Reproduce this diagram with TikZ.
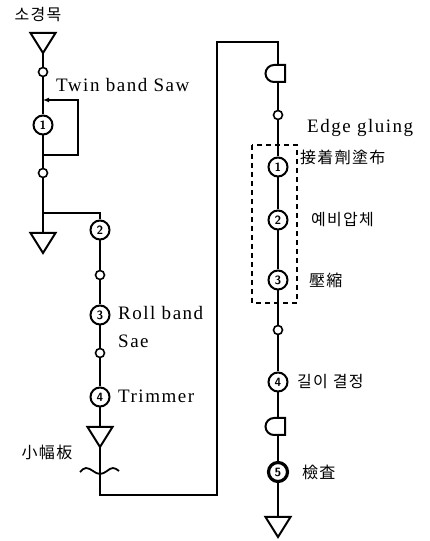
\documentclass[tikz,border=0pt]{standalone}
\usepackage{fontspec}
\setmainfont{Liberation Serif}[LetterSpace=8]
\newfontfamily\kr{Noto Sans CJK KR}[LetterSpace=8]
\usetikzlibrary{arrows.meta}
\begin{document}
\begin{tikzpicture}[x=1pt,y=1pt,
  ln/.style={line width=2pt},
  dot/.style={circle,draw,line width=1.6pt,minimum size=9pt,inner sep=0pt,fill=white},
  op/.style={circle,draw,line width=2pt,minimum size=19pt,inner sep=0pt,fill=white,
     font=\sffamily\bfseries\fontsize{12}{12}\selectfont},
  opk/.style={op,line width=3.2pt},
  lat/.style={font=\fontsize{19}{19}\selectfont,inner sep=0pt},
  cjk/.style={font=\kr\fontsize{16}{16}\selectfont,inner sep=0pt},
  tri/.pic={\draw[line width=2pt,fill=white] (-12.5,0) -- (12.5,0) -- (0,-20) -- cycle;
     \coordinate (-top) at (0,0); \coordinate (-bot) at (0,-20);},
  delay/.pic={\draw[line width=2pt,fill=white] (7,8.5) -- (-4,8.5) arc[start angle=90,end angle=270,radius=8.5] -- (7,-8.5) -- cycle;
     \coordinate (-top) at (0,8.5); \coordinate (-bot) at (0,-8.5);}
]
\useasboundingbox (0,0) rectangle (430,541);
\coordinate (j1) at (43,441);
\coordinate (j2) at (43,386);
\coordinate (lr1) at (78,441);
\coordinate (lr2) at (78,386);
\coordinate (br) at (43,328);
\coordinate (b1) at (100,46);
\coordinate (b2) at (217,46);
\coordinate (b3) at (217,499);
\coordinate (b4) at (278,499);
\node[dot] (s1) at (43,469) {};
\node[op] (c1) at (43,416) {1};
\node[dot] (s2) at (43,368) {};
\node[op] (c2) at (100,311) {2};
\node[dot] (s3) at (100,266) {};
\node[op] (c3) at (100,226) {3};
\node[dot] (s4) at (100,188) {};
\node[op] (c4) at (100,144) {4};
\node[dot] (s5) at (278,426) {};
\node[op] (c5) at (278,374) {1};
\node[op] (c6) at (278,321) {2};
\node[op] (c7) at (278,261) {3};
\node[dot] (s6) at (278,211) {};
\node[op] (c8) at (278,159) {4};
\node[opk] (c9) at (278,69) {5};
\pic (t1) at (43,508) {tri};
\pic (t2) at (43,308) {tri};
\pic (t3) at (100,114) {tri};
\pic (t4) at (278,24) {tri};
\pic (d1) at (278,467.5) {delay};
\pic (d2) at (278,114.5) {delay};
% connectors
\draw[ln] (t1-bot) -- (s1) -- (c1) -- (s2) -- (br) -- (t2-top);
\draw[ln] (br) -| (c2);
\draw[ln] (c2) -- (s3) -- (c3) -- (s4) -- (c4) -- (t3-top);
\draw[ln] (t3-bot) -- (b1) -- (b2) -- (b3) -- (b4) -- (d1-top);
\draw[ln] (d1-bot) -- (s5) -- (c5) -- (c6) -- (c7) -- (s6) -- (c8) -- (d2-top);
\draw[ln] (d2-bot) -- (c9) -- (t4-top);
\draw[ln,-{Latex[length=6pt,width=5pt]}] (j2) -- (lr2) -- (lr1) -- (j1);
% wave
\coordinate (w0) at (80,69);
\draw[line width=1.8pt] (w0) sin ++(6,4) cos ++(7,-3) sin ++(7,-3) cos ++(7,3) sin ++(6,3) cos ++(6,-3);
% dashed box
\draw[line width=2pt,dash pattern=on 5pt off 4pt] (252,396) rectangle (297,238);
% texts
\node[cjk] (title) at (38,526) {소경목};
\node[lat,anchor=base west] (lt1) at (56,449) {Twin band Saw};
\node[lat,anchor=base west] (lt2) at (118,221) {Roll band};
\node[lat,anchor=base west] (lt3) at (118,193) {Sae};
\node[lat,anchor=base west] (lt4) at (118,138) {Trimmer};
\node[cjk] (lt5) at (47,89) {小幅板};
\node[lat,anchor=base west] (rt1) at (307,408) {Edge gluing};
\node[cjk,anchor=west] (rt2) at (300,384) {接着劑塗布};
\node[cjk,anchor=west] (rt3) at (311,321) {예비압체};
\node[cjk,anchor=west] (rt4) at (309,261) {壓縮};
\node[cjk,anchor=west] (rt5) at (297,159) {길이 결정};
\node[cjk,anchor=west] (rt6) at (302,69) {檢査};
\end{tikzpicture}
\end{document}
